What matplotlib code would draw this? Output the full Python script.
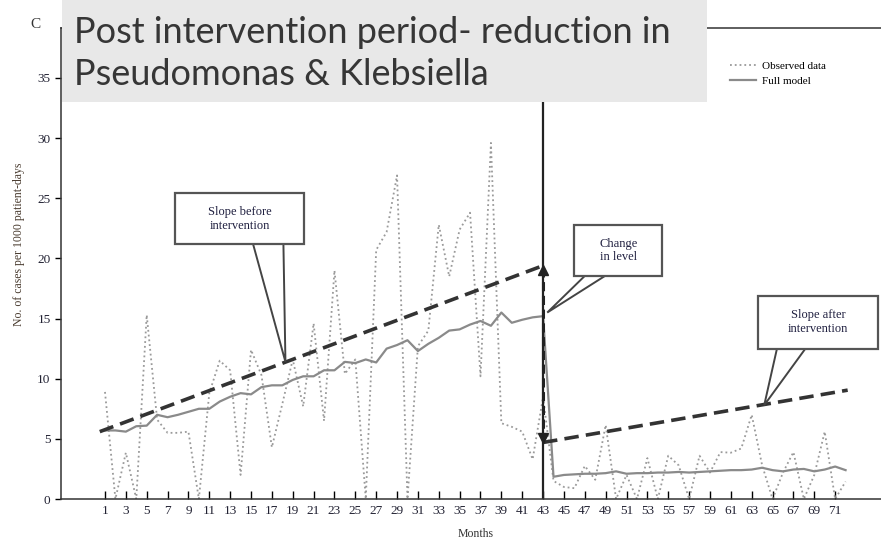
import numpy as np
import matplotlib.pyplot as plt
from matplotlib.patches import Rectangle, Polygon

# monthly data
months = np.arange(1, 73)
observed = [8.9, 0, 3.85, 0, 15.3, 6.6, 5.5, 5.5, 5.6, 0,
            8.8, 11.5, 10.7, 2.0, 12.4, 10.3, 4.3, 7.9, 11.6, 7.7,
            14.6, 6.5, 19.0, 10.4, 11.6, 0, 20.7, 22.2, 26.9, 0,
            12.7, 14.0, 22.8, 18.5, 22.4, 23.8, 10.2, 29.6, 6.3, 6.0,
            5.6, 3.3, 8.5, 1.5, 1.0, 0.9, 2.75, 1.6, 6.15, 0,
            2.0, 0, 3.4, 0, 3.6, 2.8, 0, 3.6, 2.2, 3.9,
            3.85, 4.2, 7.0, 2.8, 0, 2.2, 3.9, 0, 2.0, 5.6,
            0, 1.45]
full_model = [5.7, 5.7, 5.6, 6.05, 6.1, 7.0, 6.8, 7.0, 7.25, 7.5,
              7.5, 8.1, 8.5, 8.8, 8.7, 9.3, 9.45, 9.45, 9.9, 10.2,
              10.2, 10.7, 10.7, 11.4, 11.3, 11.6, 11.35, 12.5, 12.8, 13.2,
              12.3, 12.9, 13.4, 14.0, 14.1, 14.5, 14.8, 14.4, 15.5, 14.65,
              14.9, 15.1, 15.2, 1.85, 2.0, 2.05, 2.1, 2.1, 2.15, 2.3,
              2.1, 2.15, 2.15, 2.2, 2.2, 2.25, 2.2, 2.25, 2.3, 2.35,
              2.4, 2.4, 2.45, 2.6, 2.4, 2.3, 2.45, 2.5, 2.3, 2.45,
              2.7, 2.4]
intervention = 43
trend_before_x = [0.5, 43]
trend_before_y = [5.6, 19.4]
trend_after_x = [43, 72.2]
trend_after_y = [4.7, 9.05]

xtick_labels = [str(m) for m in range(1, 72, 2)]
yticks = [0, 5, 10, 15, 20, 25, 30, 35]

# callouts: (text, box x0, box x1, box y0, box y1, tail base x0, tail base x1, tip x, tip y)
callouts = [
    ("Slope before\nintervention", 7.7, 20.1, 21.2, 25.4, 15.1, 18.1, 18.3, 11.4),
    ("Change\nin level", 46.0, 54.4, 18.5, 22.8, 47.3, 49.4, 43.4, 15.5),
    ("Slope after\nintervention", 63.6, 75.1, 12.5, 16.9, 65.5, 68.4, 64.2, 7.8),
]

serif = 'Liberation Serif'
fig = plt.figure(figsize=(8.81, 5.43), dpi=100)
ax = fig.add_axes([0.0692, 0.081, 1.01 - 0.0692, 0.8674])

ax.plot(months, observed, ':', color='#9a9a9a', lw=1.3, label='Observed data')
ax.plot(months, full_model, '-', color='#8a8a8a', lw=1.6, label='Full model')
ax.plot(trend_before_x, trend_before_y, '--', color='#333333', lw=2.6, dashes=(4, 2))
ax.plot(trend_after_x, trend_after_y, '--', color='#333333', lw=2.6, dashes=(4, 2))
ax.axvline(intervention, color='#222222', lw=1.6)
ax.plot([intervention, intervention], [trend_after_y[0], trend_before_y[1]], '--',
        color='#222222', lw=2.2, dashes=(3, 1.5))
ax.plot([intervention], [trend_before_y[1] - 0.4], marker='^', color='#222222', ms=7)
ax.plot([intervention], [trend_after_y[0] + 0.4], marker='v', color='#222222', ms=7)

for text, bx0, bx1, by0, by1, tx0, tx1, px, py in callouts:
    ax.add_patch(Polygon([[tx0, by0 + 0.3], [px, py], [tx1, by0 + 0.3]], closed=False,
                         fill=False, ec='#444444', lw=1.4, zorder=4))
    ax.add_patch(Rectangle((bx0, by0), bx1 - bx0, by1 - by0, fc='white', ec='#555555',
                           lw=1.6, zorder=5))
    ax.text((bx0 + bx1) / 2, (by0 + by1) / 2, text, ha='center', va='center',
            family=serif, fontsize=9, color='#202040', linespacing=1.2, zorder=6)

ax.set_xlim(-3.22, 76.24)
ax.set_ylim(0, 39.15)
ax.set_xticks(range(1, 72, 2))
ax.set_xticklabels(xtick_labels)
ax.set_yticks(yticks)
ax.tick_params(axis='x', direction='in', length=6, width=1, labelsize=9.5, pad=4)
ax.tick_params(axis='y', direction='out', length=4, width=1, labelsize=9.5)
for lab in ax.get_xticklabels() + ax.get_yticklabels():
    lab.set_family(serif)
    lab.set_color('#222233')
for s in ['left', 'bottom', 'top']:
    ax.spines[s].set_color('#333333')
    ax.spines[s].set_linewidth(1.1)
ax.spines['right'].set_visible(False)

ax.set_xlabel('Months', family=serif, fontsize=8.5, color='#333333', labelpad=8)
fig.text(0.021, 0.55, 'No. of cases per 1000 patient-days', rotation=90, ha='center',
         va='center', family=serif, fontsize=8.5, color='#4a3c30')
fig.text(0.040, 0.955, 'C', family=serif, fontsize=11, color='#333333', ha='center', va='center')

leg = ax.legend(loc='upper left', bbox_to_anchor=(0.822, 0.897), bbox_transform=fig.transFigure,
                frameon=False, prop={'family': serif, 'size': 8}, handlelength=2.4,
                handletextpad=0.5, labelspacing=0.45, borderpad=0)

# slide title box laid over the chart
fig.add_artist(Rectangle((0.0704, 0.812), 0.7321, 0.19, transform=fig.transFigure,
                         fc='#e8e8e8', ec='none', zorder=10))
fig.text(0.084, 0.902, 'Post intervention period- reduction in\nPseudomonas & Klebsiella',
         family='Lato', fontsize=26, color='#363636', va='center', ha='left',
         linespacing=1.32, zorder=11)

fig.savefig('out.png', dpi=100)
